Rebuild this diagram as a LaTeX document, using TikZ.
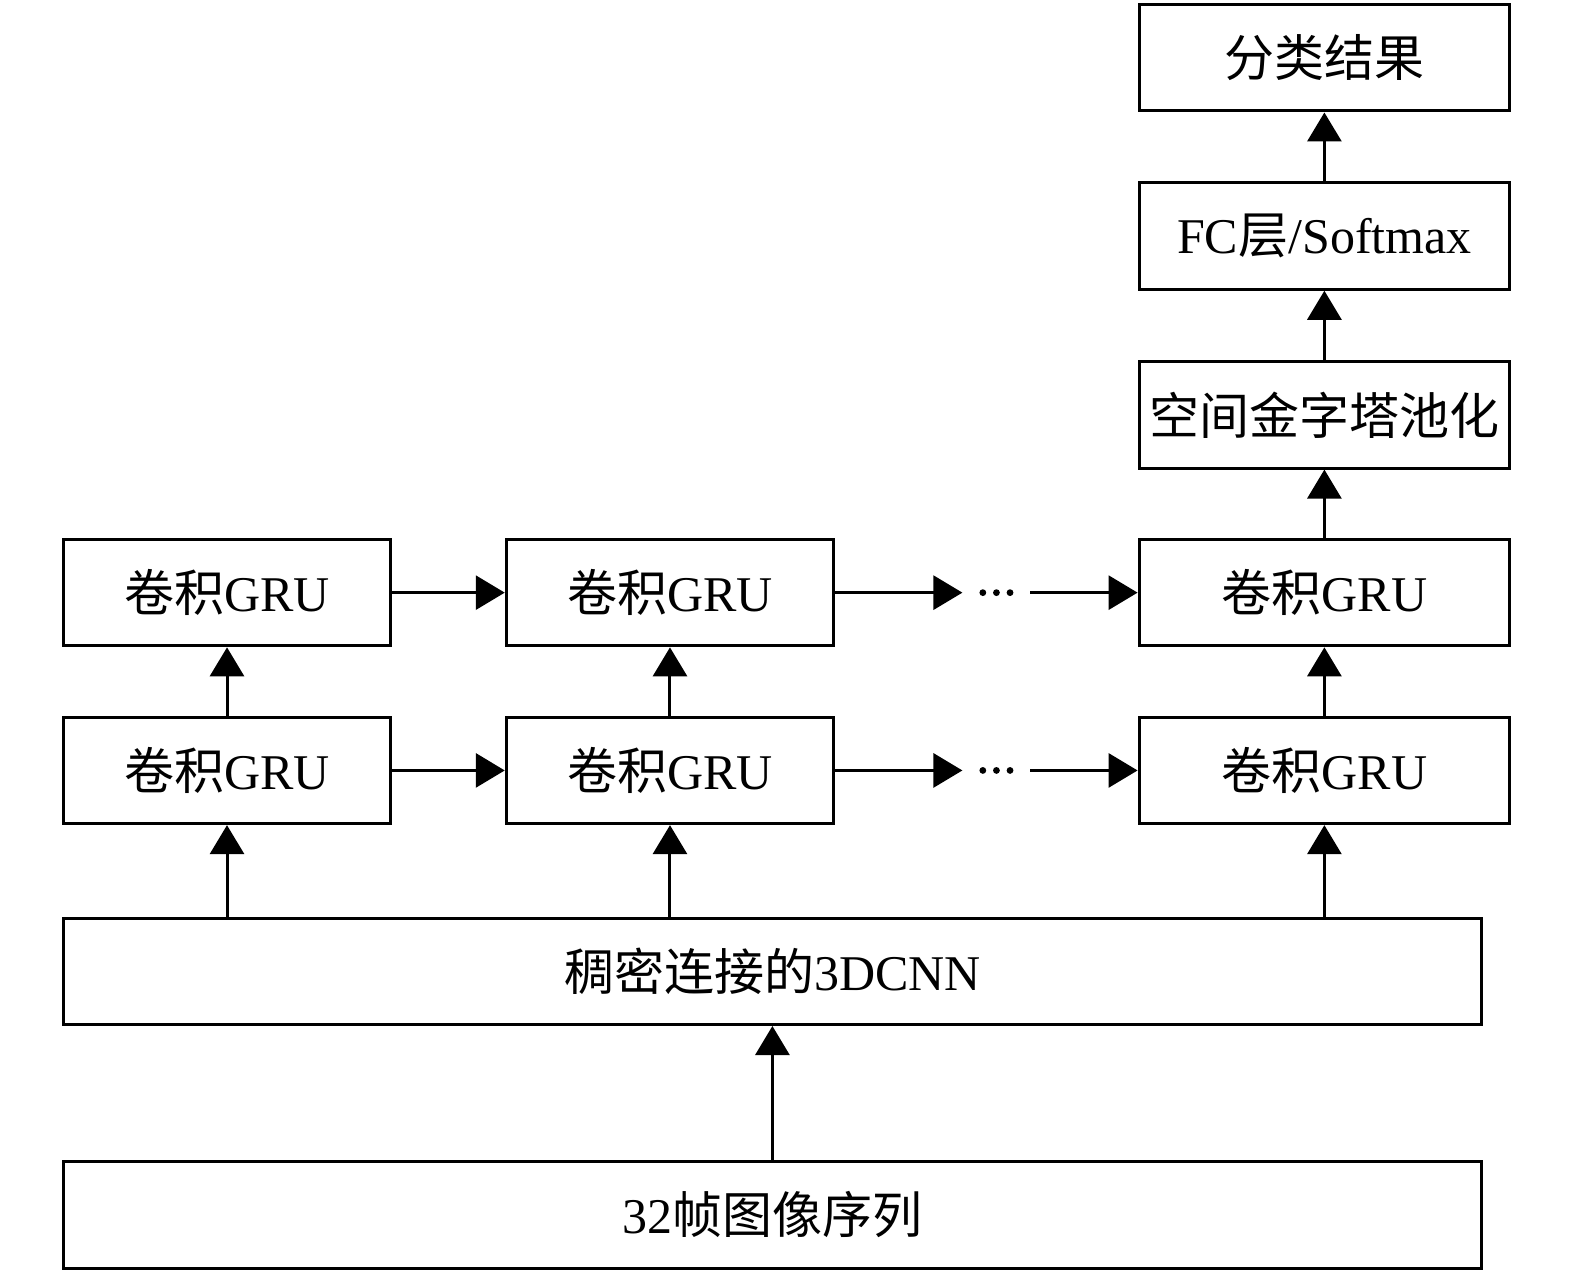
\documentclass[tikz,border=0pt]{standalone}
\usepackage{fontspec}
\setmainfont{Liberation Serif}
\newfontfamily\cjk{Noto Sans CJK SC}
\usetikzlibrary{arrows.meta}
\begin{document}
\begin{tikzpicture}[x=0.50223pt,y=-0.50223pt,
  box/.style={draw, line width=1.5pt, inner sep=0pt, font=\fontsize{25}{30}\selectfont, minimum height=53.2pt},
  small/.style={box, minimum width=163.7pt},
  right/.style={box, minimum width=185.3pt},
  wide/.style={box, minimum width=709.2pt},
  arr/.style={line width=1.5pt, -{Triangle[length=14.5pt,width=17pt]}},
  dotnode/.style={inner sep=0pt, minimum width=33.6pt, minimum height=10pt},
  dot/.style={fill=black}]
\useasboundingbox (0,0) rectangle (1568,1268.4);
\node[right] (res) at (1318.5,57.5) {{\cjk 分类结果}};
\node[right] (fc) at (1318.5,235) {FC{\cjk 层}/Softmax};
\node[right] (spp) at (1318.5,413) {{\cjk 空间金字塔池化}};
\node[small] (a1) at (226,590) {{\cjk 卷积}GRU};
\node[small] (a2) at (667,590) {{\cjk 卷积}GRU};
\node[right] (a3) at (1318.5,590) {{\cjk 卷积}GRU};
\node[small] (b1) at (226,767) {{\cjk 卷积}GRU};
\node[small] (b2) at (667,767) {{\cjk 卷积}GRU};
\node[right] (b3) at (1318.5,767) {{\cjk 卷积}GRU};
\node[dotnode] (d1) at (992,590) {};
\node[dotnode] (d2) at (992,767) {};
\foreach \n in {d1,d2} {
  \fill[dot] ([xshift=-6.8pt]\n.center) circle[radius=1.7pt];
  \fill[dot] (\n.center) circle[radius=1.7pt];
  \fill[dot] ([xshift=6.8pt]\n.center) circle[radius=1.7pt];
}
\node[wide] (cnn) at (769,967) {{\cjk 稠密连接的}3DCNN};
\node[wide] (seq) at (769,1209.5) {32{\cjk 帧图像序列}};
\draw[arr] (fc) -- (res);
\draw[arr] (spp) -- (fc);
\draw[arr] (a3) -- (spp);
\draw[arr] (b1) -- (a1);
\draw[arr] (b2) -- (a2);
\draw[arr] (b3) -- (a3);
\draw[arr] (a1) -- (a2);
\draw[arr] (a2) -- (d1);
\draw[arr] (d1) -- (a3);
\draw[arr] (b1) -- (b2);
\draw[arr] (b2) -- (d2);
\draw[arr] (d2) -- (b3);
\draw[arr] (cnn.north -| b1) -- (b1);
\draw[arr] (cnn.north -| b2) -- (b2);
\draw[arr] (cnn.north -| b3) -- (b3);
\draw[arr] (seq) -- (cnn);
\end{tikzpicture}
\end{document}
